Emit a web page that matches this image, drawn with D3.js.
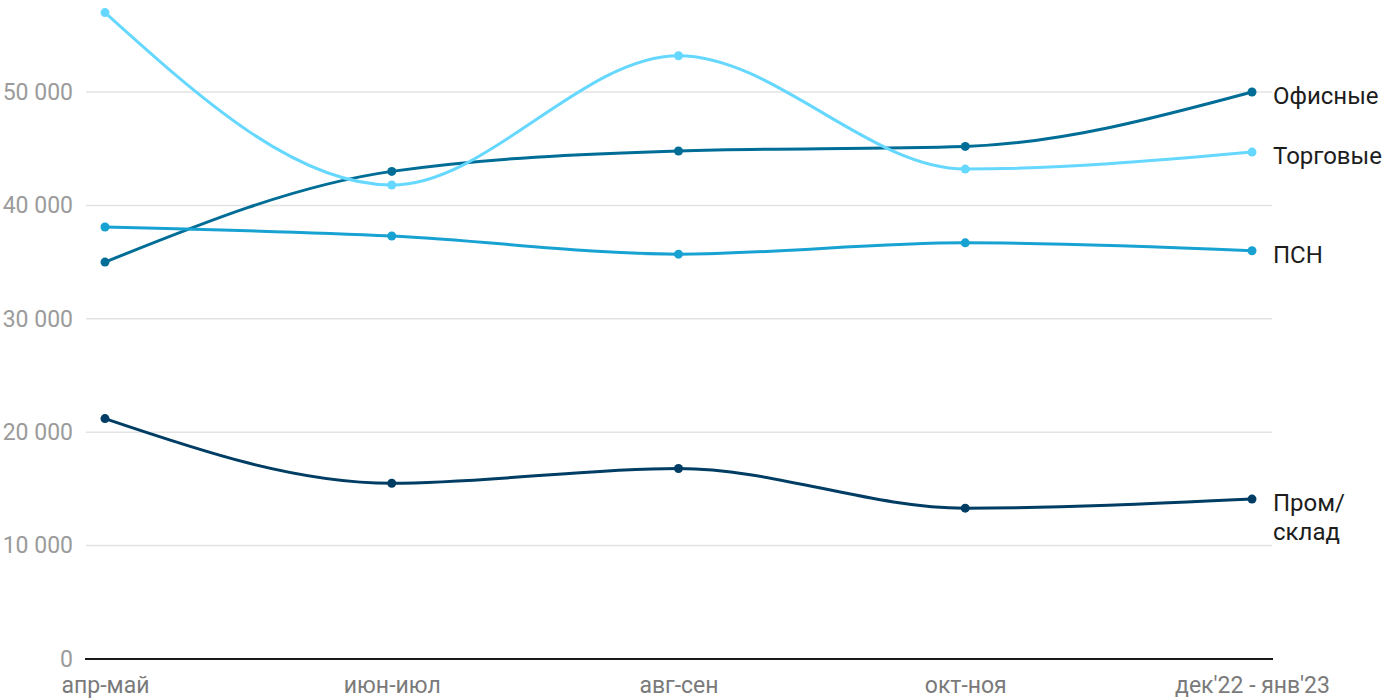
<!DOCTYPE html>
<html><head><meta charset="utf-8">
<script src="https://cdn.jsdelivr.net/npm/d3@7"></script>
<style>
body{margin:0;background:#fff;}
svg{display:block;font-family:Roboto, "Noto Sans", sans-serif;}
</style></head>
<body><svg id="c" width="1400" height="700"></svg>
<script>
const categories = ["апр-май","июн-июл","авг-сен","окт-ноя","дек'22 - янв'23"];
const office = [35000, 43000, 44800, 45200, 50000];
const retail = [57000, 41800, 53200, 43200, 44700];
const psn = [38100, 37300, 35700, 36700, 36000];
const industrial = [21200, 15500, 16800, 13300, 14100];
const yTicks = [0, 10000, 20000, 30000, 40000, 50000];
const seriesNames = ["Офисные","Торговые","ПСН","Пром/склад"];
const seriesColors = ["#006d96","#66d8ff","#18a2d2","#003d64"];

const series = [
  {name: seriesNames[0], values: office, color: seriesColors[0], label: ["Офисные"]},
  {name: seriesNames[1], values: retail, color: seriesColors[1], label: ["Торговые"]},
  {name: seriesNames[2], values: psn, color: seriesColors[2], label: ["ПСН"]},
  {name: seriesNames[3], values: industrial, color: seriesColors[3], label: ["Пром/","склад"]}
];

const svg = d3.select("#c");
const x = d3.scalePoint().domain(categories).range([105, 1252]);
const y = d3.scaleLinear().domain([0, 50000]).range([659, 92]);
const fmt = v => d3.format(",")(v).replace(/,/g, " ");

// grid
const g = svg.append("g");
g.selectAll("line.grid").data(yTicks.filter(d => d > 0)).join("line")
  .attr("x1", 86).attr("x2", 1272)
  .attr("y1", d => y(d)).attr("y2", d => y(d))
  .attr("stroke", "#e3e3e3").attr("stroke-width", 1.5);

// y labels
const yAxis = d3.axisLeft(y).tickValues(yTicks).tickFormat(fmt).tickSize(0).tickPadding(0);
const ya = svg.append("g").attr("transform", "translate(73,0)").call(yAxis);
ya.select(".domain").remove();
ya.selectAll("text").attr("fill", "#9b9b9b").style("font-size", "23px")
  .style("font-family", "Roboto").attr("dy", "0.32em");

// x axis
const xAxis = d3.axisBottom(x).tickSize(0).tickPadding(0);
const xa = svg.append("g").attr("transform", "translate(0,659)").call(xAxis);
xa.select(".domain").remove();
xa.selectAll("text").attr("fill", "#7a7a7a").style("font-size", "23px")
  .style("font-family", "Roboto").attr("y", 27).attr("dy", "0.32em");
svg.append("line").attr("x1", 85).attr("x2", 1273).attr("y1", y(0)).attr("y2", y(0))
  .attr("stroke", "#1a1a1a").attr("stroke-width", 2);

const line = d3.line().x((d, i) => x(categories[i])).y(d => y(d)).curve(d3.curveMonotoneX);

series.forEach(s => {
  svg.append("path").datum(s.values).attr("d", line)
    .attr("fill", "none").attr("stroke", s.color).attr("stroke-width", 3);
  svg.append("g").selectAll("circle").data(s.values).join("circle")
    .attr("cx", (d, i) => x(categories[i])).attr("cy", d => y(d))
    .attr("r", 4.5).attr("fill", s.color);
  const last = s.values[s.values.length - 1];
  const t = svg.append("text").attr("x", 1273).attr("y", y(last))
    .attr("fill", "#1d1d1d").style("font-size", "24px").style("font-family", "Roboto");
  s.label.forEach((l, i) => {
    t.append("tspan").attr("x", 1273).attr("dy", i === 0 ? "0.5em" : "1.2em").text(l);
  });
});
</script></body></html>
